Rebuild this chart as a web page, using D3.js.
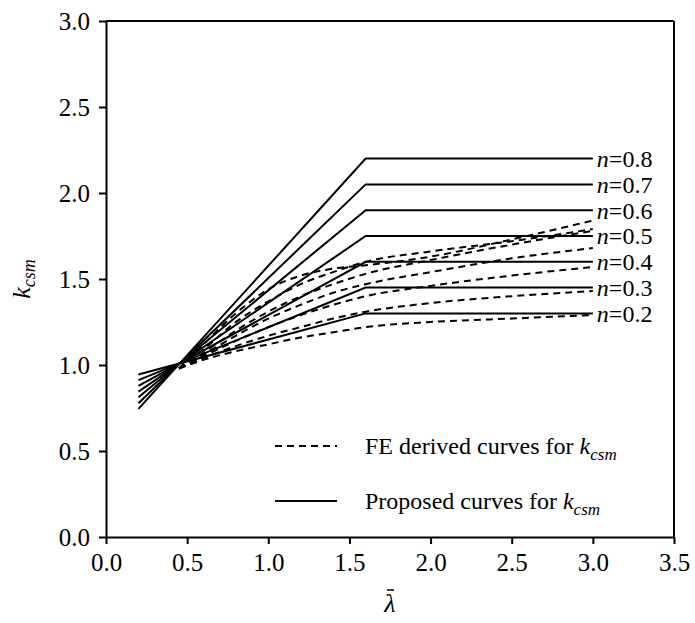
<!DOCTYPE html>
<html>
<head>
<meta charset="utf-8">
<script src="https://cdn.jsdelivr.net/npm/d3@7"></script>
<style>
  body { margin: 0; background: #fff; }
  svg { display: block; }
  text { font-family: "Liberation Serif", "Times New Roman", serif; fill: #000; }
</style>
</head>
<body>
<svg id="chart" width="695" height="623"></svg>
<script>
// ---- data ----
const xTicks = [0.0, 0.5, 1.0, 1.5, 2.0, 2.5, 3.0, 3.5];
const yTicks = [0.0, 0.5, 1.0, 1.5, 2.0, 2.5, 3.0];
const nValues = [0.8, 0.7, 0.6, 0.5, 0.4, 0.3, 0.2];

// proposed (solid) curves: breakpoints in lambda
const proposedX = [0.2, 1.6, 3.0];
const proposedStart = [0.745, 0.778, 0.812, 0.845, 0.878, 0.912, 0.945];
const proposedPlateau = [2.2, 2.05, 1.9, 1.75, 1.6, 1.45, 1.3];

// FE derived (dashed) curves
const feX = [0.45, 0.6, 0.8, 1.0, 1.2, 1.4, 1.6, 2.0, 2.5, 3.0];
const fe08 = [0.98, 1.12, 1.30, 1.44, 1.52, 1.56, 1.58, 1.63, 1.73, 1.84];
const fe07 = [0.98, 1.09, 1.25, 1.37, 1.47, 1.54, 1.60, 1.66, 1.72, 1.79];
const fe06 = [0.98, 1.07, 1.20, 1.31, 1.40, 1.47, 1.53, 1.61, 1.70, 1.78];
const fe05 = [0.98, 1.06, 1.17, 1.27, 1.35, 1.42, 1.47, 1.54, 1.62, 1.68];
const fe04 = [0.98, 1.05, 1.14, 1.22, 1.29, 1.35, 1.40, 1.46, 1.52, 1.57];
const fe03 = [0.98, 1.04, 1.11, 1.17, 1.22, 1.27, 1.31, 1.36, 1.40, 1.43];
const fe02 = [0.98, 1.03, 1.08, 1.12, 1.16, 1.19, 1.22, 1.25, 1.27, 1.29];
const feSeries = [fe08, fe07, fe06, fe05, fe04, fe03, fe02];

// ---- layout ----
const svg = d3.select("#chart");
const padL = 106, padR = 674, padT = 21, padB = 537;
const x = d3.scaleLinear().domain([0, 3.5]).range([padL, padR]);
const y = d3.scaleLinear().domain([0, 3]).range([padB, padT]);

// frame (top + right)
svg.append("line").attr("x1", padL).attr("x2", padR).attr("y1", padT).attr("y2", padT)
  .attr("stroke", "#000").attr("stroke-width", 2);
svg.append("line").attr("x1", padR).attr("x2", padR).attr("y1", padT).attr("y2", padB)
  .attr("stroke", "#000").attr("stroke-width", 2);

// axes
const xAxis = svg.append("g").attr("transform", `translate(0,${padB})`)
  .call(d3.axisBottom(x).tickValues(xTicks).tickFormat(d3.format(".1f")).tickSize(7).tickSizeOuter(0));
const yAxis = svg.append("g").attr("transform", `translate(${padL},0)`)
  .call(d3.axisLeft(y).tickValues(yTicks).tickFormat(d3.format(".1f")).tickSize(7).tickSizeOuter(0));
[xAxis, yAxis].forEach(g => {
  g.select(".domain").attr("stroke", "#000").attr("stroke-width", 2);
  g.selectAll(".tick line").attr("stroke", "#000").attr("stroke-width", 2);
  g.selectAll(".tick text").attr("font-size", 25).attr("font-family", "Liberation Serif, serif");
});
xAxis.selectAll(".tick text").attr("dy", "0.95em").attr("y", 10);
yAxis.selectAll(".tick text").attr("x", -16);

// lines
const line = d3.line().x(d => x(d[0])).y(d => y(d[1]));
feSeries.forEach(s => {
  svg.append("path").datum(feX.map((v, i) => [v, s[i]]))
    .attr("d", line.curve(d3.curveMonotoneX)).attr("fill", "none")
    .attr("stroke", "#000").attr("stroke-width", 2).attr("stroke-dasharray", "7,5");
});
const lineStraight = d3.line().x(d => x(d[0])).y(d => y(d[1]));
nValues.forEach((n, i) => {
  const pts = [[proposedX[0], proposedStart[i]], [proposedX[1], proposedPlateau[i]], [proposedX[2], proposedPlateau[i]]];
  svg.append("path").datum(pts).attr("d", lineStraight).attr("fill", "none")
    .attr("stroke", "#000").attr("stroke-width", 2);
  const t = svg.append("text").attr("x", x(proposedX[2]) + 4).attr("y", y(proposedPlateau[i]))
    .attr("dy", "0.35em").attr("font-size", 24);
  t.append("tspan").attr("font-style", "italic").text("n");
  t.append("tspan").text("=" + n.toFixed(1));
});

// legend
const legX1 = 275, legX2 = 337, legTextX = 365;
const legRows = [
  { y: 446, dash: "7,5", label: "FE derived curves for " },
  { y: 501, dash: null, label: "Proposed curves for " }
];
legRows.forEach(r => {
  svg.append("line").attr("x1", legX1).attr("x2", legX2).attr("y1", r.y).attr("y2", r.y)
    .attr("stroke", "#000").attr("stroke-width", 2).attr("stroke-dasharray", r.dash);
  const t = svg.append("text").attr("x", legTextX).attr("y", r.y).attr("dy", "0.35em").attr("font-size", 24);
  t.append("tspan").text(r.label);
  t.append("tspan").attr("font-style", "italic").text("k");
  t.append("tspan").attr("font-style", "italic").attr("font-size", 17).attr("dy", "0.3em").text("csm");
});

// axis titles
svg.append("text").attr("x", (padL + padR) / 2).attr("y", 612)
  .attr("text-anchor", "middle").attr("font-size", 26).attr("font-style", "italic").text("λ");
svg.append("line").attr("x1", (padL + padR) / 2 - 3).attr("x2", (padL + padR) / 2 + 4)
  .attr("y1", 590).attr("y2", 590).attr("stroke", "#000").attr("stroke-width", 1.5);

const yt = svg.append("text").attr("transform", `translate(30,${(padT + padB) / 2}) rotate(-90)`)
  .attr("text-anchor", "middle").attr("font-size", 26);
yt.append("tspan").attr("font-style", "italic").text("k");
yt.append("tspan").attr("font-style", "italic").attr("font-size", 18).attr("dy", "0.3em").text("csm");
</script>
</body>
</html>
